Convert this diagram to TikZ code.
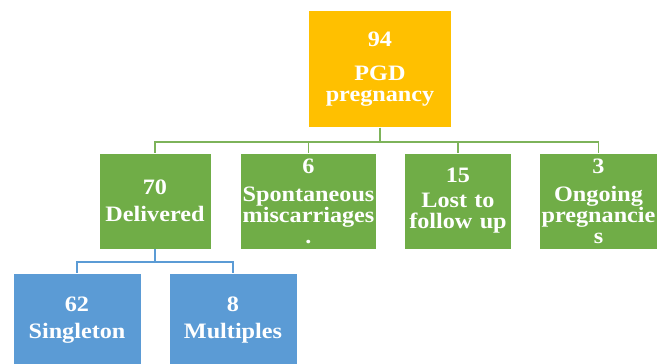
\documentclass[tikz,border=0pt]{standalone}
\usepackage{fontspec}
\setmainfont{Liberation Serif}[FakeStretch=1.1]
\usepackage{tikz}

\definecolor{topfill}{HTML}{FFC000}
\definecolor{midfill}{HTML}{70AD47}
\definecolor{lowfill}{HTML}{5B9BD5}
\definecolor{midline}{HTML}{7DB35A}
\newcommand{\boxfont}{\fontsize{22}{21}\selectfont\bfseries}

\begin{document}
\begin{tikzpicture}[grow = down, x=1pt, y=1pt,
  box/.style = {draw=white, line width=0.5pt, inner sep=0pt, align=center, text=white, font=\boxfont},
  topbox/.style = {box, fill=topfill, text width=143pt, minimum height=117pt},
  midbox/.style = {box, fill=midfill, text width=#1, minimum height=96pt},
  lowbox/.style = {box, fill=lowfill, text width=128pt, minimum height=94pt},
  level 1/.style = {level distance=132pt, sibling distance=149pt,
    edge from parent/.style={draw=midline, line width=1.6pt},
    edge from parent path={(\tikzparentnode.south) -- ++(0,-14) -| (\tikzchildnode.north)}},
  level 2/.style = {level distance=119pt, sibling distance=156pt,
    edge from parent/.style={draw=lowfill, line width=2pt},
    edge from parent path={(\tikzparentnode.south) -- ++(0,-13) -| (\tikzchildnode.north)}}]
  \clip (-380,69) rectangle (279,-295);
  \node[topbox] (pgd) {94\\[13pt]PGD\\pregnancy}
    child { node[midbox=112pt, xshift=-1.5pt] (deliv) {70\\[6pt]Delivered}
      child { node[lowbox] (single) {62\\[6pt]Singleton} }
      child { node[lowbox] (multi) {8\\[6pt]Multiples} } }
    child { node[midbox=136pt, xshift=3pt] (misc) {6\\[7pt]Spontaneous\\miscarriages\\.} }
    child { node[midbox=107pt, xshift=3.5pt] (lost) {15\\[4pt]Lost to\\follow up} }
    child { node[midbox=118pt, xshift=-5pt] (ongo) {3\\[7pt]Ongoing\\pregnancie\\s} };
\end{tikzpicture}
\end{document}
